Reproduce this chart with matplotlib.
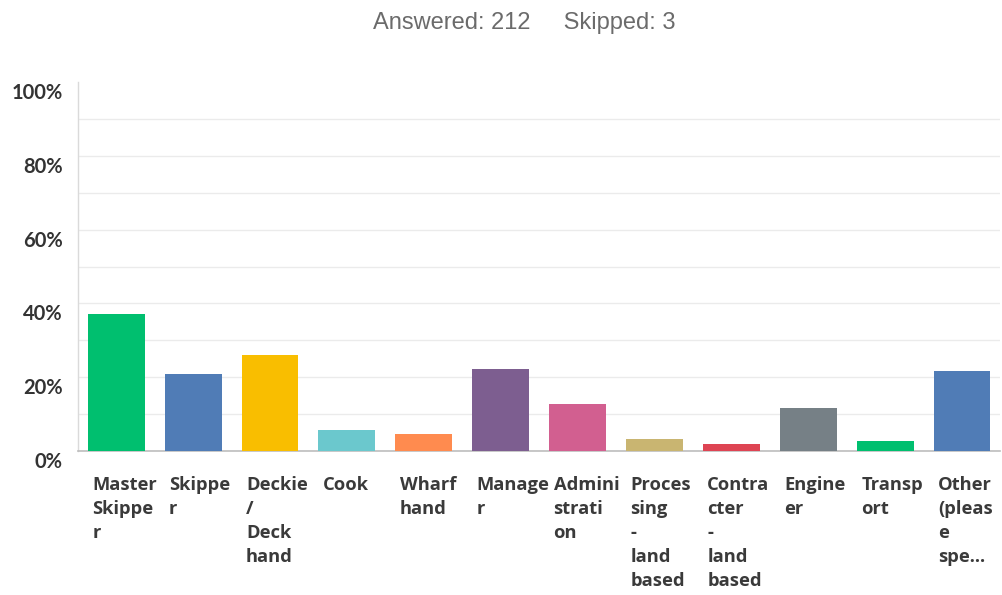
import matplotlib.pyplot as plt
import matplotlib.transforms as mtransforms
from matplotlib.ticker import MultipleLocator

# Share of respondents per role (%), 212 answered
roles = [
    "Master\nSkippe\nr", "Skippe\nr", "Deckie\n/\nDeck\nhand", "Cook",
    "Wharf\nhand", "Manage\nr", "Admini\nstrati\non", "Proces\nsing\n-\nland\nbased",
    "Contra\ncter\n-\nland\nbased", "Engine\ner", "Transp\nort", "Other\n(pleas\ne\nspe...",
]
share = [37.26, 20.75, 25.94, 5.66, 4.72, 22.17, 12.74, 3.30, 1.89, 11.79, 2.83, 21.70]
colors = [
    "#00BF6F", "#507CB6", "#F9BE00", "#6BC8CD", "#FF8B4F", "#7D5E90",
    "#D25F90", "#C9B571", "#DE4453", "#768086", "#00BF6F", "#507CB6",
]
answered = 212
skipped = 3

fig = plt.figure(figsize=(10.03, 5.95), dpi=100)
ax = fig.add_axes([0.0775, 0.242, 0.92, 0.620])

bar_w = 0.74
x = list(range(len(share)))
ax.bar(x, share, width=bar_w, color=colors, zorder=3)

ax.set_xlim(-0.5, len(share) - 0.5)
ax.set_ylim(0, 100)

# y axis: labels every 20%, grid every 10%
ax.yaxis.set_major_locator(MultipleLocator(20))
ax.yaxis.set_minor_locator(MultipleLocator(10))
ax.set_yticklabels([f"{int(v)}%" for v in ax.get_yticks()])
ax.tick_params(axis="y", which="both", length=0, pad=11)
ax.grid(axis="y", which="both", color="#EBEBEB", linewidth=1, zorder=0)
for line in ax.yaxis.get_gridlines():
    if abs(line.get_ydata()[0] - 100) < 1e-6:
        line.set_visible(False)

down = mtransforms.ScaledTranslation(0, -0.09, fig.dpi_scale_trans)
for lab in ax.get_yticklabels():
    lab.set_fontfamily("Lato")
    lab.set_fontweight("bold")
    lab.set_fontsize(14.5)
    lab.set_color("#333333")
    lab.set_transform(lab.get_transform() + down)

# x axis: wrapped labels, left aligned near the bar's left edge
ax.set_xticks(x)
ax.set_xticklabels(roles, ha="left", va="top", multialignment="left",
                   fontfamily="Open Sans", fontweight="bold", fontsize=13.2,
                   color="#3A3A3A", linespacing=1.42)
ax.tick_params(axis="x", length=0, pad=18)
shift = mtransforms.ScaledTranslation(-0.24, 0, fig.dpi_scale_trans)
for lab in ax.get_xticklabels():
    lab.set_transform(lab.get_transform() + shift)

for side in ("top", "right"):
    ax.spines[side].set_visible(False)
ax.spines["left"].set_color("#DADADA")
ax.spines["bottom"].set_color("#BDBDBD")
ax.spines["left"].set_linewidth(1)
ax.spines["bottom"].set_linewidth(1.2)

fig.text(0.523, 0.962, f"Answered: {answered}     Skipped: {skipped}",
         ha="center", va="center", fontsize=17, color="#6B6B6B",
         fontfamily="Liberation Sans")

fig.savefig("out.png", dpi=100, facecolor="white")
